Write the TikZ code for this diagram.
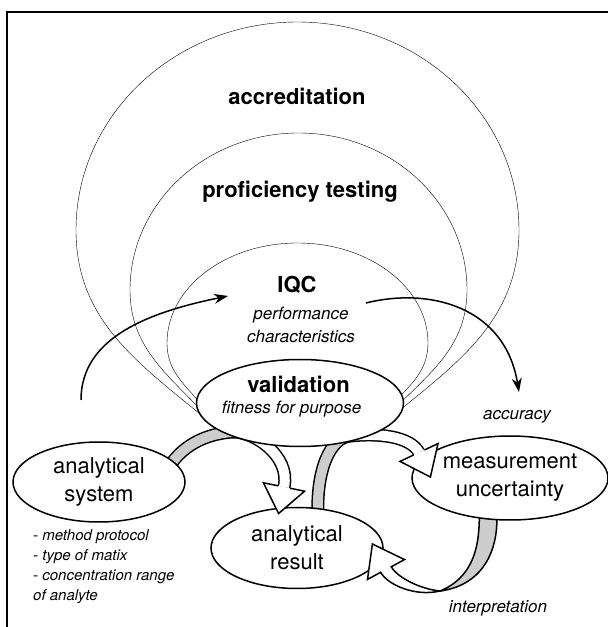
\documentclass[tikz,border=0pt]{standalone}
\usepackage{fontspec}
\setmainfont{TeX Gyre Heros}
\usetikzlibrary{shapes.geometric, arrows.meta, calc, backgrounds}
\definecolor{bandgray}{RGB}{205,205,205}
\begin{document}
\begin{tikzpicture}[x=1pt, y=1pt, line width=1.5pt,
  bigtxt/.style={font=\fontsize{22}{28}\selectfont\bfseries, inner sep=0pt, anchor=base},
  lbl/.style={font=\fontsize{22}{28}\selectfont, align=center},
  itx/.style={font=\fontsize{17}{21}\selectfont\itshape, inner sep=0pt, anchor=base},
  oval/.style={ellipse, draw, fill=white, inner sep=0pt, line width=1.5pt},
  band/.style={draw=black, line width=1.5pt, double distance=10pt},
  thinarrow/.style={-{Stealth[length=14pt,width=10pt]}, line width=1.5pt},
  headfill/.style={fill=white, draw=black, line width=1.5pt, line join=miter},
  twistfill/.style={fill=bandgray, draw=black, line width=1.5pt, line join=round}
]
\useasboundingbox (0,0) rectangle (608,627);

% frame (left and top edges)
\draw[line width=2.2pt] (7,-2) -- (7,615) -- (610,615);

% ellipses of the process chain
\node[oval, minimum width=207pt, minimum height=87pt] (val) at (300,224) {};
\node[oval, lbl, minimum width=172pt, minimum height=80pt] (sys) at (99,145) {analytical\\system};
\node[oval, lbl, minimum width=172pt, minimum height=81pt] (res) at (297,79) {analytical\\result};
\node[oval, lbl, minimum width=196pt, minimum height=84pt] (mu) at (510,149) {measurement\\uncertainty};

% meeting points of the nested quality levels on the validation oval
\coordinate (L) at (217,199);
\coordinate (R) at (373,195);

\begin{pgfonlayer}{background}
  % accreditation / proficiency testing / IQC
  \draw (L) to[out=140,in=-90] (76,397)
        arc[start angle=180,end angle=0,x radius=221.5,y radius=208]
        to[out=-90,in=40] (R);
  \draw (L) to[out=130,in=-90] (130,337)
        arc[start angle=180,end angle=0,x radius=168.5,y radius=157]
        to[out=-90,in=50] (R);
  \draw (L) to[out=115,in=-90] (167,284)
        arc[start angle=180,end angle=0,x radius=130.5,y radius=100]
        to[out=-90,in=65] (R);

  % thin arrows
  \coordinate (a1s) at (81,227);
  \coordinate (a1e) at (228,331);
  \draw[thinarrow] (a1s) .. controls (81,290) and (150,315) .. (a1e);
  \coordinate (a2s) at (366,324);
  \coordinate (a2e) at (519,235);
  \draw[thinarrow] (a2s) .. controls (430,340) and (505,320) .. (a2e);

  % ribbon arrows: grey back side, white front side
  \coordinate (hA) at (284,140);
  \coordinate (tA) at (232,195);
  \draw[band, double=bandgray] ($(sys.center)+(67,10)$) .. controls (180,181) and (205,193) .. (tA);
  \draw[band, double=white] (tA) .. controls (252,196.5) and (291,172) .. (hA);

  \coordinate (hB) at (419,174.5);
  \coordinate (tB) at (350,191);
  \draw[band, double=bandgray] ($(res.center)+(21,31)$) .. controls (316,157) and (330,189) .. (tB);
  \draw[band, double=white] (tB) .. controls (378,194) and (410,191) .. (hB);

  % third ribbon twists to a point below the uncertainty oval
  \coordinate (tC) at (440,36);
  \path[twistfill] ($(mu.center)+(-31,-27)$) .. controls (481,82) and (474,50) .. (tC)
        .. controls (486,42) and (501,82) .. ($(mu.center)+(-14,-27)$) -- cycle;
\end{pgfonlayer}

% arrow heads of the ribbons
\path[headfill] ($(hA)+(5.9,-1.2)$) -- ($(hA)+(20.6,-4.2)$) -- ($(hA)+(-5.4,-26.5)$)
  -- ($(hA)+(-20.6,4.2)$) -- ($(hA)+(-5.9,1.2)$);
\path[headfill] ($(hB)+(5.4,2.5)$) -- ($(hB)+(19.0,8.9)$) -- ($(hB)+(11.4,-24.5)$)
  -- ($(hB)+(-19.0,-8.9)$) -- ($(hB)+(-5.4,-2.5)$);
% white front of the third ribbon with its head, ending at the result oval
\coordinate (hC) at (386,57.5);
\path[headfill] (tC) .. controls (415,30) and (387.3,42.4) .. ($(hC)+(-5.3,-2.8)$)
  -- ($(hC)+(-18.5,-9.9)$) -- ($(hC)+(-13.6,25.5)$) -- ($(hC)+(18.5,9.9)$)
  -- ($(hC)+(5.3,2.8)$) .. controls (396.9,49.7) and (420,38) .. (tC) -- cycle;

% labels
\node[bigtxt] (tacc) at (297,522) {accreditation};
\node[bigtxt] (tpt) at (300,429) {proficiency testing};
\node[bigtxt] (tiqc) at (297,334) {IQC};
\node[itx] (tperf) at (301,307) {performance};
\node[itx] (tchar) at (301,284) {characteristics};
\node[bigtxt] (tval) at (298.5,234) {validation};
\node[itx] (tfit) at (291.5,213) {fitness for purpose};
\node[itx] (tacu) at (517,207) {accuracy};
\node[itx] (tint) at (498,14) {interpretation};
\node[font=\fontsize{15}{20}\selectfont\itshape, align=left, anchor=north west, inner sep=0pt]
  (tlist) at (33,98) {- method protocol\\- type of matix\\- concentration range\\of analyte};
\end{tikzpicture}
\end{document}
